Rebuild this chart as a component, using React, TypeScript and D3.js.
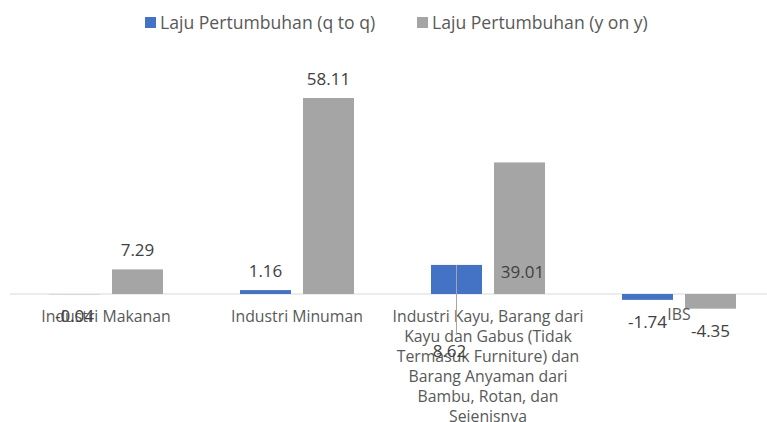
import { useEffect, useRef } from 'react';
import * as d3 from 'd3';

const categories = [
  'Industri Makanan',
  'Industri Minuman',
  'Industri Kayu, Barang dari Kayu dan Gabus (Tidak Termasuk Furniture) dan Barang Anyaman dari Bambu, Rotan, dan Sejenisnya',
  'IBS',
];
const seriesNames = ['Laju Pertumbuhan (q to q)', 'Laju Pertumbuhan (y on y)'];
const qtoq = [-0.04, 1.16, 8.62, -1.74];
const yony = [7.29, 58.11, 39.01, -4.35];

const catLines = [
  ['Industri Makanan'],
  ['Industri Minuman'],
  ['Industri Kayu, Barang dari', 'Kayu dan Gabus (Tidak', 'Termasuk Furniture) dan', 'Barang Anyaman dari', 'Bambu, Rotan, dan', 'Sejenisnya'],
  ['IBS'],
];

const colors = ['#4472C4', '#A5A5A5'];
const W = 767;
const H = 422;
const FONT = '"Open Sans", sans-serif';

export default function App() {
  const svgRef = useRef<SVGSVGElement>(null);

  useEffect(() => {
    const svg = d3.select(svgRef.current);
    svg.selectAll('*').remove();

    const zeroY = 294;
    const k = 196 / 58.11;
    const y = d3.scaleLinear().domain([-10, 60]).range([zeroY + 10 * k, zeroY - 60 * k]);

    const x0 = d3.scaleBand<number>()
      .domain(d3.range(categories.length))
      .range([10.5, 774.5]);
    const x1 = d3.scaleBand<number>()
      .domain([0, 1])
      .range([x0.bandwidth() / 2 - 57, x0.bandwidth() / 2 + 57])
      .paddingInner(12 / 63);

    const data = categories.map((c, i) => ({ i, vals: [qtoq[i], yony[i]] }));

    // axis line
    svg.append('line')
      .attr('x1', 10).attr('x2', W)
      .attr('y1', y(0)).attr('y2', y(0))
      .attr('stroke', '#D9D9D9').attr('stroke-width', 1);

    // bars
    const g = svg.append('g');
    data.forEach(d => {
      d.vals.forEach((v, s) => {
        g.append('rect')
          .attr('x', x0(d.i)! + x1(s)!)
          .attr('y', Math.min(y(v), y(0)))
          .attr('width', x1.bandwidth())
          .attr('height', Math.abs(y(v) - y(0)))
          .attr('fill', colors[s]);
      });
    });

    // category labels
    catLines.forEach((lines, i) => {
      const cx = x0(i)! + x0.bandwidth() / 2;
      const top = i === 3 ? 320 : 322;
      const t = svg.append('text')
        .attr('text-anchor', 'middle')
        .attr('font-family', FONT)
        .attr('font-size', 15.8)
        .attr('fill', '#595959');
      lines.forEach((l, j) => {
        t.append('tspan').attr('x', cx).attr('y', top + j * 20).text(l);
      });
    });

    // data labels (placed as in the original export)
    const fmt = (v: number) => v.toFixed(2);
    const labelPos = (i: number, s: number, v: number) => {
      const cx = x0(i)! + x1(s)! + x1.bandwidth() / 2;
      if (v < 0) return { x: cx, y: y(0) + (s === 0 ? 34 : 43) - (i === 0 ? 6 : 0) };
      if (i === 2 && s === 0) return { x: cx - 7, y: 357 };
      if (i === 2 && s === 1) return { x: cx + 3, y: 278 };
      return { x: cx, y: y(v) - 13 };
    };

    // leader line for the displaced label
    const lx = x0(2)! + x1(0)! + x1.bandwidth() / 2;
    svg.append('line')
      .attr('x1', lx).attr('x2', lx)
      .attr('y1', y(qtoq[2])).attr('y2', 333)
      .attr('stroke', '#A6A6A6').attr('stroke-width', 1);

    data.forEach(d => {
      d.vals.forEach((v, s) => {
        const p = labelPos(d.i, s, v);
        svg.append('text')
          .attr('x', p.x)
          .attr('y', p.y)
          .attr('text-anchor', 'middle')
          .attr('font-family', FONT)
          .attr('font-size', 17)
          .attr('fill', '#404040')
          .text(fmt(v));
      });
    });

    // legend
    const legendX = [145, 417];
    seriesNames.forEach((n, s) => {
      svg.append('rect')
        .attr('x', legendX[s]).attr('y', 17)
        .attr('width', 11).attr('height', 11)
        .attr('fill', colors[s]);
      svg.append('text')
        .attr('x', legendX[s] + 15)
        .attr('y', 29)
        .attr('font-family', FONT)
        .attr('font-size', 17.6)
        .attr('fill', '#595959')
        .text(n);
    });
  }, []);

  return (
    <svg
      ref={svgRef}
      width={W}
      height={H}
      style={{ position: 'absolute', left: 0, top: 0, background: '#fff' }}
    />
  );
}
